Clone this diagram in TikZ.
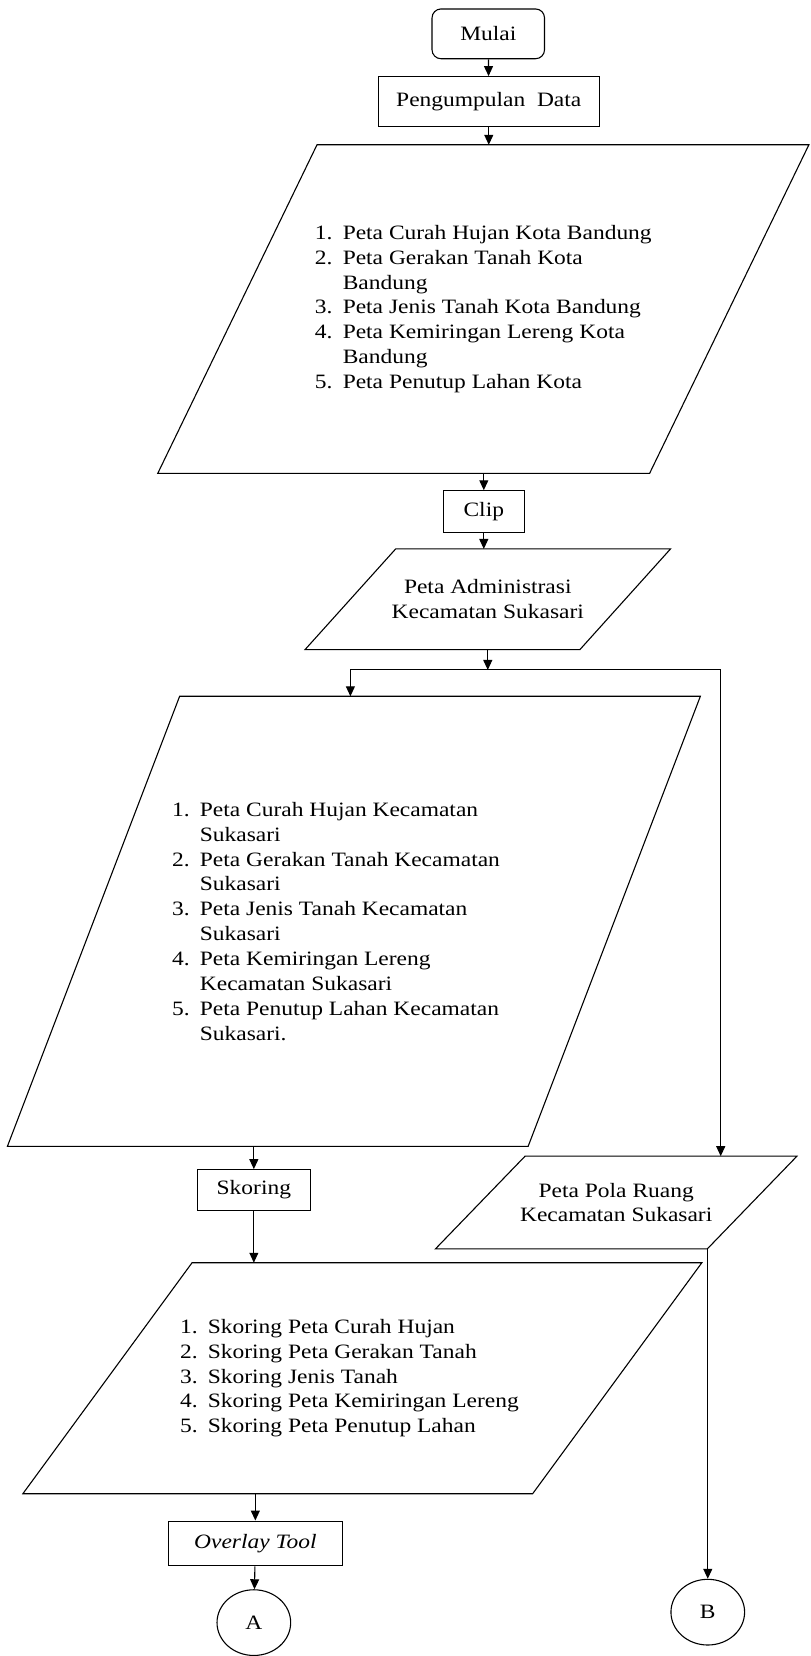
\documentclass[tikz,border=0pt]{standalone}
\usepackage{fontspec}
\setmainfont{Liberation Serif}[FakeStretch=1.15]
\usetikzlibrary{shapes.geometric,arrows.meta,calc}

\newcommand{\itm}[2]{\makebox[28pt][l]{#1}#2}
\newcommand{\cnt}[1]{\hspace*{28pt}#1}
% slanted outline round a data node: node name, half of the slant
\newcommand{\slanted}[2]{\draw ($(#1.north west)+(#2,0)$) -- ($(#1.north east)+(#2,0)$)
    -- ($(#1.south east)-(#2,0)$) -- ($(#1.south west)-(#2,0)$) -- cycle;}

\begin{document}
\begin{tikzpicture}[x=1pt, y=-1pt, line width=1.1pt,
    every node/.style={font=\fontsize{20.5}{25}\selectfont},
    >={Triangle[length=10pt,width=9pt]},
    term/.style={draw, rectangle, rounded corners=9pt, inner sep=0pt},
    proc/.style={draw, rectangle, inner sep=0pt},
    data/.style={rectangle, inner sep=0pt, align=left},
    conn/.style={draw, ellipse, minimum width=74pt, minimum height=66pt, inner sep=0pt}]
    \path[fill=white] (0,0) rectangle (814,1656);

    % Start and data collection
    \node[term, minimum width=113pt, minimum height=50pt] (mulai) at (490.5,34) {Mulai};
    \node[proc, minimum width=222pt, minimum height=50pt] (kumpul) at (491,102) {Pengumpulan\ \ Data};
    \node[data, minimum width=493pt, minimum height=329pt] (peta1) at (485.5,310.5) {%
        \itm{1.}{Peta Curah Hujan Kota Bandung}\\
        \itm{2.}{Peta Gerakan Tanah Kota}\\
        \cnt{Bandung}\\
        \itm{3.}{Peta Jenis Tanah Kota Bandung}\\
        \itm{4.}{Peta Kemiringan Lereng Kota}\\
        \cnt{Bandung}\\
        \itm{5.}{Peta Penutup Lahan Kota}};
    \slanted{peta1}{80}

    % Clip with the district map
    \node[proc, minimum width=81pt, minimum height=42pt] (clip) at (486,514) {Clip};
    \node[data, minimum width=275pt, minimum height=100pt, align=center] (admin) at (490,602)
        {Peta Administrasi\\Kecamatan Sukasari};
    \slanted{admin}{45.5}
    \coordinate (jl) at (352,673);
    \coordinate (jr) at (724,673);

    % Left branch
    \node[data, minimum width=522pt, minimum height=451pt] (peta2) at (355.5,925.5) {%
        \itm{1.}{Peta Curah Hujan Kecamatan}\\
        \cnt{Sukasari}\\
        \itm{2.}{Peta Gerakan Tanah Kecamatan}\hbox to 36pt{}\\
        \cnt{Sukasari}\\
        \itm{3.}{Peta Jenis Tanah Kecamatan}\\
        \cnt{Sukasari}\\
        \itm{4.}{Peta Kemiringan Lereng}\\
        \cnt{Kecamatan Sukasari}\\
        \itm{5.}{Peta Penutup Lahan Kecamatan}\\
        \cnt{Sukasari.}};
    \slanted{peta2}{86.5}
    \node[proc, minimum width=114pt, minimum height=41pt] (skor) at (255,1195.5) {Skoring};
    \node[data, minimum width=511pt, minimum height=231pt] (skorlist) at (364,1384.5) {%
        \itm{1.}{Skoring Peta Curah Hujan}\\
        \itm{2.}{Skoring Peta Gerakan Tanah}\\
        \itm{3.}{Skoring Jenis Tanah}\\
        \itm{4.}{Skoring Peta Kemiringan Lereng}\hbox to 26pt{}\\
        \itm{5.}{Skoring Peta Penutup Lahan}};
    \slanted{skorlist}{85}
    \node[proc, minimum width=175pt, minimum height=45pt] (overlay) at (256.5,1550.5) {\textit{Overlay Tool}};
    \node[conn] (A) at (255,1630) {A};

    % Right branch
    \node[data, minimum width=272pt, minimum height=92pt, align=center] (pola) at (619,1208)
        {Peta Pola Ruang\\Kecamatan Sukasari};
    \slanted{pola}{45}
    \node[conn] (B) at (711,1619.5) {B};

    % Connectors
    \draw[->] (mulai) -- (kumpul);
    \draw[->] (kumpul.south) -- (kumpul.south |- peta1.north);
    \draw[->] (clip.north |- peta1.south) -- (clip.north);
    \draw[->] (clip) -- (clip.south |- admin.north);
    \draw[->] (admin.south) -- (admin.south |- jl);
    \draw (jl) -- (jr);
    \draw[->] (jl) -- (jl |- peta2.north);
    \draw[->] (jr) -- (jr |- pola.north);
    \draw[->] (skor.north |- peta2.south) -- (skor.north);
    \draw[->] (skor) -- (skor.south |- skorlist.north);
    \draw[->] (overlay.north |- skorlist.south) -- (overlay.north);
    \draw[->] (overlay) -- (A);
    \draw[->] (B.north |- pola.south) -- (B.north);
\end{tikzpicture}
\end{document}
